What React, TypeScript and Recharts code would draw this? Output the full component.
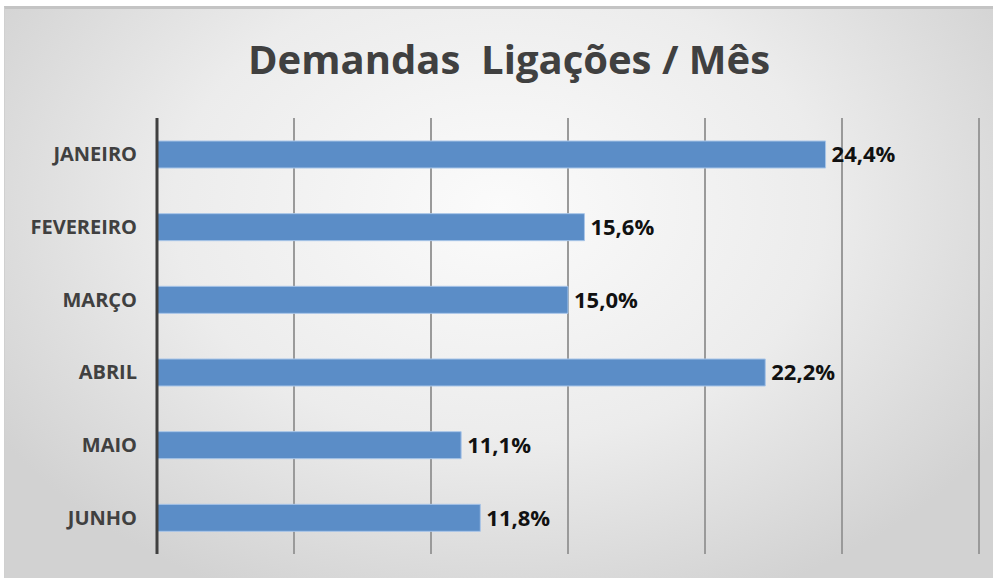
import { BarChart, Bar, XAxis, YAxis, CartesianGrid, LabelList } from 'recharts';

const months = ['JANEIRO', 'FEVEREIRO', 'MARÇO', 'ABRIL', 'MAIO', 'JUNHO'];
const shares = [24.4, 15.6, 15.0, 22.2, 11.1, 11.8];
const xTicks = [0, 5, 10, 15, 20, 25, 30];

const data = months.map((month, i) => ({ month, value: shares[i] }));

const pct = (v: number) => `${v.toFixed(1).replace('.', ',')}%`;

const font = '"Open Sans", sans-serif';

const App = () => {
  return (
    <div
      style={{
        position: 'absolute',
        left: 0,
        top: 0,
        width: 995,
        height: 580,
        background: '#ffffff',
        fontFamily: font,
      }}
    >
      <div
        style={{
          position: 'absolute',
          left: 4,
          top: 6,
          width: 989,
          height: 572,
          borderTop: '3px solid #c4c4c4',
          borderLeft: '1px solid #d0d0d0',
          boxSizing: 'border-box',
          background: 'radial-gradient(ellipse 60% 75% at 50% 35%, #fbfbfb 0%, #ececec 55%, #d2d2d2 100%)',
        }}
      />
      <div
        style={{
          position: 'absolute',
          left: 0,
          top: 35,
          width: 1018,
          textAlign: 'center',
          fontSize: 40,
          fontWeight: 700,
          color: '#404040',
          whiteSpace: 'pre',
          lineHeight: 1.2,
        }}
      >
        Demandas  Ligações / Mês
      </div>
      <div style={{ position: 'absolute', left: 0, top: 0 }}>
        <BarChart
          width={995}
          height={580}
          data={data}
          layout="vertical"
          margin={{ top: 118, right: 16, bottom: 26, left: 0 }}
        >
          <CartesianGrid horizontal={false} stroke="#9a9a9a" strokeWidth={2} />
          <XAxis type="number" domain={[0, 30]} ticks={xTicks} hide />
          <YAxis
            type="category"
            dataKey="month"
            width={157}
            tickLine={false}
            tickSize={0}
            tickMargin={20}
            axisLine={{ stroke: '#404040', strokeWidth: 3 }}
            tick={{ fill: '#404040', fontSize: 20, fontWeight: 700, fontFamily: font }}
          />
          <Bar
            dataKey="value"
            fill="#5b8dc7"
            stroke="#a8c5e8"
            strokeWidth={1}
            barSize={27}
            isAnimationActive={false}
          >
            <LabelList
              dataKey="value"
              position="right"
              offset={6}
              formatter={(v: any) => pct(Number(v))}
              style={{ fill: '#111111', fontSize: 22, fontWeight: 700, fontFamily: font }}
            />
          </Bar>
        </BarChart>
      </div>
    </div>
  );
};

export default App;
